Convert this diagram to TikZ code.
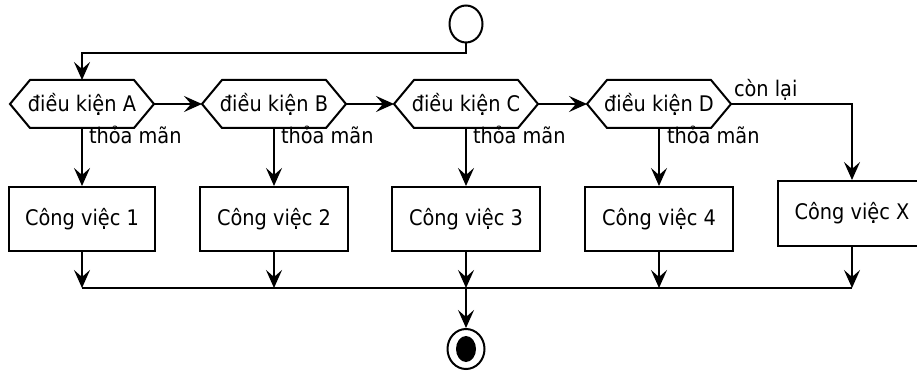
\documentclass[tikz,border=0pt]{standalone}
\usepackage{fontspec}
\setmainfont{DejaVu Sans Condensed}
\usetikzlibrary{arrows.meta,calc,shapes.geometric}
\begin{document}
\begin{tikzpicture}[x=1pt,y=-1pt,
  line width=2pt,
  every node/.style={font=\fontsize{21.5}{26}\selectfont},
  arr/.style={-{Stealth[length=18pt,width=16pt,inset=7pt]}},
  hexnode/.style={minimum width=142pt,minimum height=46pt,inner sep=0pt},
  actbox/.style={draw,minimum height=64pt,minimum width=148pt,inner sep=0pt},
  lbl/.style={inner sep=0pt,anchor=base west}]
\useasboundingbox (0,0) rectangle (917,371);

% start / end
\node[draw,ellipse,minimum width=33pt,minimum height=37pt,inner sep=0pt] (start) at (466,24) {};
\node[draw,ellipse,minimum width=37pt,minimum height=40pt,inner sep=0pt] (end) at (466,349) {};
\node[fill,ellipse,minimum width=20pt,minimum height=26pt,inner sep=0pt] (endin) at (466,349) {};

% decisions
\foreach \n/\x/\t in {hA/82/A,hB/274/B,hC/466/C,hD/659/D}{
  \node[hexnode] (\n) at (\x,104) {điều kiện \t};
  \draw ($(\n.north west)+(20,0)$) -- ($(\n.north east)+(-20,0)$) -- (\n.east)
     -- ($(\n.south east)+(-20,0)$) -- ($(\n.south west)+(20,0)$) -- (\n.west) -- cycle;
}

% activities
\node[actbox,minimum width=146pt] (b1) at (82,219) {Công việc 1};
\node[actbox] (b2) at (274,219) {Công việc 2};
\node[actbox] (b3) at (466,219) {Công việc 3};
\node[actbox] (b4) at (659,219) {Công việc 4};
\node[actbox,minimum height=65pt] (bX) at (852,213.5) {Công việc X};

% start flow
\coordinate (j0) at (82,53);
\draw[arr] (start.south) |- (j0) -- (hA.north);

% chain
\draw[arr] (hA.east) -- (hB.west);
\draw[arr] (hB.east) -- (hC.west);
\draw[arr] (hC.east) -- (hD.west);
\draw[arr] (hD.east) -| (bX.north);
\node[lbl] (lr) at (733,97) {còn lại};

% yes branches
\draw[arr] (hA.south) -- (b1.north);
\draw[arr] (hB.south) -- (b2.north);
\draw[arr] (hC.south) -- (b3.north);
\draw[arr] (hD.south) -- (b4.north);
\node[lbl] (l1) at (88,144) {thỏa mãn};
\node[lbl] (l2) at (280,144) {thỏa mãn};
\node[lbl] (l3) at (472,144) {thỏa mãn};
\node[lbl] (l4) at (666,144) {thỏa mãn};

% merge
\coordinate (m1) at (82,288);
\coordinate (m2) at (274,288);
\coordinate (m3) at (466,288);
\coordinate (m4) at (659,288);
\coordinate (mX) at (852,288);
\draw (m1) -- (mX);
\draw[arr] (b1.south) -- (m1);
\draw[arr] (b2.south) -- (m2);
\draw[arr] (b3.south) -- (m3);
\draw[arr] (b4.south) -- (m4);
\draw[arr] (bX.south) -- (mX);
\draw[arr] (m3) -- (end.north);
\end{tikzpicture}
\end{document}
